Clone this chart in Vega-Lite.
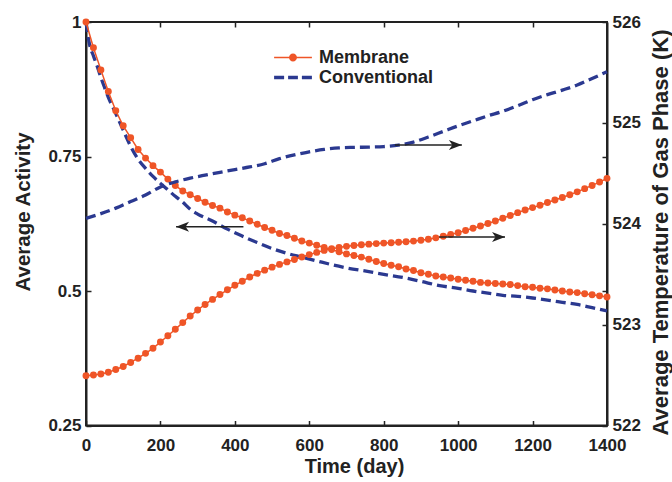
{
  "$schema": "https://vega.github.io/schema/vega-lite/v6.json",
  "width": 521,
  "height": 403.5,
  "autosize": "none",
  "padding": {"left": 86, "top": 22, "right": 65, "bottom": 56.5},
  "background": "white",
  "config": {
    "view": {"stroke": "#222", "strokeWidth": 2},
    "axis": {
      "labelFont": "Liberation Sans", "labelFontWeight": "bold", "labelFontSize": 17, "labelColor": "#222", "labelFlush": false,
      "titleFont": "Liberation Sans", "titleFontWeight": "bold", "titleColor": "#222",
      "domainColor": "#222", "domainWidth": 2, "tickColor": "#222", "tickWidth": 1.5, "tickSize": -5, "grid": false
    }
  },
  "datasets": {
    "memAct": [
      {"day": 0, "value": 1.0, "s": "Membrane"}, {"day": 20, "value": 0.952, "s": "Membrane"}, {"day": 40, "value": 0.911, "s": "Membrane"},
      {"day": 60, "value": 0.871, "s": "Membrane"}, {"day": 80, "value": 0.835, "s": "Membrane"}, {"day": 100, "value": 0.807, "s": "Membrane"},
      {"day": 120, "value": 0.785, "s": "Membrane"}, {"day": 140, "value": 0.763, "s": "Membrane"}, {"day": 160, "value": 0.747, "s": "Membrane"},
      {"day": 180, "value": 0.733, "s": "Membrane"}, {"day": 200, "value": 0.721, "s": "Membrane"}, {"day": 220, "value": 0.708, "s": "Membrane"},
      {"day": 240, "value": 0.696, "s": "Membrane"}, {"day": 260, "value": 0.686, "s": "Membrane"}, {"day": 280, "value": 0.679, "s": "Membrane"},
      {"day": 300, "value": 0.672, "s": "Membrane"}, {"day": 320, "value": 0.665, "s": "Membrane"}, {"day": 340, "value": 0.659, "s": "Membrane"},
      {"day": 360, "value": 0.654, "s": "Membrane"}, {"day": 380, "value": 0.647, "s": "Membrane"}, {"day": 400, "value": 0.641, "s": "Membrane"},
      {"day": 420, "value": 0.636, "s": "Membrane"}, {"day": 440, "value": 0.630, "s": "Membrane"}, {"day": 460, "value": 0.624, "s": "Membrane"},
      {"day": 480, "value": 0.618, "s": "Membrane"}, {"day": 500, "value": 0.613, "s": "Membrane"}, {"day": 520, "value": 0.607, "s": "Membrane"},
      {"day": 540, "value": 0.603, "s": "Membrane"}, {"day": 560, "value": 0.598, "s": "Membrane"}, {"day": 580, "value": 0.593, "s": "Membrane"},
      {"day": 600, "value": 0.589, "s": "Membrane"}, {"day": 620, "value": 0.585, "s": "Membrane"}, {"day": 640, "value": 0.581, "s": "Membrane"},
      {"day": 660, "value": 0.577, "s": "Membrane"}, {"day": 680, "value": 0.573, "s": "Membrane"}, {"day": 700, "value": 0.569, "s": "Membrane"},
      {"day": 720, "value": 0.566, "s": "Membrane"}, {"day": 740, "value": 0.563, "s": "Membrane"}, {"day": 760, "value": 0.559, "s": "Membrane"},
      {"day": 780, "value": 0.555, "s": "Membrane"}, {"day": 800, "value": 0.551, "s": "Membrane"}, {"day": 820, "value": 0.548, "s": "Membrane"},
      {"day": 840, "value": 0.545, "s": "Membrane"}, {"day": 860, "value": 0.541, "s": "Membrane"}, {"day": 880, "value": 0.538, "s": "Membrane"},
      {"day": 900, "value": 0.534, "s": "Membrane"}, {"day": 920, "value": 0.531, "s": "Membrane"}, {"day": 940, "value": 0.528, "s": "Membrane"},
      {"day": 960, "value": 0.526, "s": "Membrane"}, {"day": 980, "value": 0.524, "s": "Membrane"}, {"day": 1000, "value": 0.522, "s": "Membrane"},
      {"day": 1020, "value": 0.520, "s": "Membrane"}, {"day": 1040, "value": 0.518, "s": "Membrane"}, {"day": 1060, "value": 0.516, "s": "Membrane"},
      {"day": 1080, "value": 0.515, "s": "Membrane"}, {"day": 1100, "value": 0.514, "s": "Membrane"}, {"day": 1120, "value": 0.513, "s": "Membrane"},
      {"day": 1140, "value": 0.512, "s": "Membrane"}, {"day": 1160, "value": 0.510, "s": "Membrane"}, {"day": 1180, "value": 0.508, "s": "Membrane"},
      {"day": 1200, "value": 0.507, "s": "Membrane"}, {"day": 1220, "value": 0.505, "s": "Membrane"}, {"day": 1240, "value": 0.504, "s": "Membrane"},
      {"day": 1260, "value": 0.502, "s": "Membrane"}, {"day": 1280, "value": 0.500, "s": "Membrane"}, {"day": 1300, "value": 0.498, "s": "Membrane"},
      {"day": 1320, "value": 0.497, "s": "Membrane"}, {"day": 1340, "value": 0.495, "s": "Membrane"}, {"day": 1360, "value": 0.493, "s": "Membrane"},
      {"day": 1380, "value": 0.491, "s": "Membrane"}, {"day": 1400, "value": 0.489, "s": "Membrane"}
    ],
    "convAct": [
      {"day": 0, "value": 1.0}, {"day": 10, "value": 0.957}, {"day": 20, "value": 0.937}, {"day": 30, "value": 0.918},
      {"day": 40, "value": 0.897}, {"day": 50, "value": 0.878}, {"day": 60, "value": 0.860}, {"day": 80, "value": 0.830},
      {"day": 100, "value": 0.799}, {"day": 120, "value": 0.769}, {"day": 140, "value": 0.745}, {"day": 160, "value": 0.728},
      {"day": 180, "value": 0.713}, {"day": 200, "value": 0.700}, {"day": 220, "value": 0.688}, {"day": 240, "value": 0.676},
      {"day": 260, "value": 0.665}, {"day": 280, "value": 0.652}, {"day": 300, "value": 0.643}, {"day": 340, "value": 0.630},
      {"day": 380, "value": 0.615}, {"day": 420, "value": 0.602}, {"day": 460, "value": 0.590}, {"day": 500, "value": 0.579},
      {"day": 540, "value": 0.570}, {"day": 580, "value": 0.563}, {"day": 620, "value": 0.556}, {"day": 660, "value": 0.549},
      {"day": 700, "value": 0.543}, {"day": 760, "value": 0.536}, {"day": 800, "value": 0.531}, {"day": 860, "value": 0.524},
      {"day": 900, "value": 0.518}, {"day": 950, "value": 0.510}, {"day": 1000, "value": 0.505}, {"day": 1040, "value": 0.500},
      {"day": 1080, "value": 0.496}, {"day": 1120, "value": 0.492}, {"day": 1160, "value": 0.490}, {"day": 1200, "value": 0.487},
      {"day": 1240, "value": 0.483}, {"day": 1280, "value": 0.479}, {"day": 1320, "value": 0.475}, {"day": 1360, "value": 0.469},
      {"day": 1400, "value": 0.463}
    ],
    "memTemp": [
      {"day": 0, "value": 522.494}, {"day": 20, "value": 522.500}, {"day": 40, "value": 522.510}, {"day": 60, "value": 522.527},
      {"day": 80, "value": 522.555}, {"day": 100, "value": 522.585}, {"day": 120, "value": 522.625}, {"day": 140, "value": 522.667},
      {"day": 160, "value": 522.715}, {"day": 180, "value": 522.765}, {"day": 200, "value": 522.828}, {"day": 220, "value": 522.890},
      {"day": 240, "value": 522.954}, {"day": 260, "value": 523.020}, {"day": 280, "value": 523.085}, {"day": 300, "value": 523.145},
      {"day": 320, "value": 523.200}, {"day": 340, "value": 523.250}, {"day": 360, "value": 523.298}, {"day": 380, "value": 523.345},
      {"day": 400, "value": 523.390}, {"day": 420, "value": 523.430}, {"day": 440, "value": 523.472}, {"day": 460, "value": 523.508},
      {"day": 480, "value": 523.540}, {"day": 500, "value": 523.570}, {"day": 520, "value": 523.597}, {"day": 540, "value": 523.622},
      {"day": 560, "value": 523.646}, {"day": 580, "value": 523.670}, {"day": 600, "value": 523.694}, {"day": 620, "value": 523.716},
      {"day": 640, "value": 523.736}, {"day": 660, "value": 523.752}, {"day": 680, "value": 523.765}, {"day": 700, "value": 523.776},
      {"day": 720, "value": 523.785}, {"day": 740, "value": 523.792}, {"day": 760, "value": 523.798}, {"day": 780, "value": 523.803},
      {"day": 800, "value": 523.808}, {"day": 820, "value": 523.812}, {"day": 840, "value": 523.816}, {"day": 860, "value": 523.821},
      {"day": 880, "value": 523.828}, {"day": 900, "value": 523.836}, {"day": 920, "value": 523.847}, {"day": 940, "value": 523.860},
      {"day": 960, "value": 523.876}, {"day": 980, "value": 523.893}, {"day": 1000, "value": 523.912}, {"day": 1020, "value": 523.933},
      {"day": 1040, "value": 523.955}, {"day": 1060, "value": 523.978}, {"day": 1080, "value": 524.003}, {"day": 1100, "value": 524.028},
      {"day": 1120, "value": 524.054}, {"day": 1140, "value": 524.082}, {"day": 1160, "value": 524.110}, {"day": 1180, "value": 524.136},
      {"day": 1200, "value": 524.160}, {"day": 1220, "value": 524.184}, {"day": 1240, "value": 524.210}, {"day": 1260, "value": 524.236},
      {"day": 1280, "value": 524.261}, {"day": 1300, "value": 524.287}, {"day": 1320, "value": 524.316}, {"day": 1340, "value": 524.348},
      {"day": 1360, "value": 524.380}, {"day": 1380, "value": 524.413}, {"day": 1400, "value": 524.450}
    ],
    "convTemp": [
      {"day": 0, "value": 524.054}, {"day": 40, "value": 524.100}, {"day": 80, "value": 524.155}, {"day": 120, "value": 524.220},
      {"day": 160, "value": 524.285}, {"day": 200, "value": 524.365}, {"day": 240, "value": 524.415}, {"day": 280, "value": 524.452},
      {"day": 320, "value": 524.482}, {"day": 360, "value": 524.510}, {"day": 400, "value": 524.537}, {"day": 440, "value": 524.563},
      {"day": 480, "value": 524.595}, {"day": 520, "value": 524.645}, {"day": 560, "value": 524.683}, {"day": 600, "value": 524.713},
      {"day": 640, "value": 524.737}, {"day": 680, "value": 524.752}, {"day": 720, "value": 524.757}, {"day": 760, "value": 524.760},
      {"day": 800, "value": 524.765}, {"day": 840, "value": 524.780}, {"day": 880, "value": 524.810}, {"day": 920, "value": 524.860},
      {"day": 960, "value": 524.915}, {"day": 1000, "value": 524.970}, {"day": 1040, "value": 525.020}, {"day": 1080, "value": 525.070},
      {"day": 1120, "value": 525.115}, {"day": 1160, "value": 525.170}, {"day": 1200, "value": 525.230}, {"day": 1240, "value": 525.280},
      {"day": 1280, "value": 525.325}, {"day": 1320, "value": 525.375}, {"day": 1360, "value": 525.440}, {"day": 1400, "value": 525.507}
    ],
    "arrowAct": [{"day": 242, "day2": 423, "value": 0.6195}],
    "arrowTemp": [{"day": 1010, "day2": 830, "value": 524.78}, {"day": 1126, "day2": 949, "value": 523.869}]
  },
  "layer": [
    {
      "encoding": {
        "x": {"field": "day", "type": "quantitative", "scale": {"domain": [0, 1400], "nice": false},
          "axis": {"orient": "bottom", "values": [0, 200, 400, 600, 800, 1000, 1200, 1400], "format": "d", "labelPadding": 17,
            "title": "Time (day)", "titleFontSize": 20, "titleX": 268, "titleY": 47, "titleBaseline": "alphabetic"}},
        "y": {"field": "value", "type": "quantitative", "scale": {"domain": [0.25, 1], "nice": false, "zero": false},
          "axis": {"orient": "left", "values": [0.25, 0.5, 0.75, 1], "format": ".2~f", "labelPadding": 10,
            "title": "Average Activity", "titleFontSize": 20.5, "titleAngle": 270, "titleBaseline": "bottom", "titleX": -53, "titleY": 189.5}}
      },
      "layer": [
        {"data": {"name": "convAct"}, "mark": {"type": "line", "color": "#2b3990", "strokeWidth": 3.3, "strokeDash": [10, 5], "interpolate": "monotone"}},
        {"data": {"name": "memAct"}, "mark": {"type": "line", "color": "#ef5527", "strokeWidth": 1.5}},
        {"data": {"name": "memAct"}, "mark": {"type": "point", "filled": true, "size": 48, "opacity": 1, "color": "#ef5527"}},
        {"data": {"name": "arrowAct"}, "mark": {"type": "point", "filled": true, "opacity": 0},
          "encoding": {
            "color": {"field": "s", "type": "nominal",
              "scale": {"domain": ["Membrane", "Conventional"], "range": ["#ef5527", "#2b3990"]},
              "legend": {"orient": "none", "legendX": 198, "legendY": 26.5, "title": null, "padding": 0, "symbolSize": 196,
                "labelOffset": 17, "labelFont": "Liberation Sans", "labelFontWeight": "bold", "labelFontSize": 18, "labelColor": "#222",
                "rowPadding": 2, "symbolStrokeWidth": 0, "symbolOpacity": 1}},
            "shape": {"field": "s", "type": "nominal",
              "scale": {"domain": ["Membrane", "Conventional"], "range": [
                "M -2.7 -0.1 L 2.7 -0.1 L 2.7 0.1 L -2.7 0.1 Z M 0.57 0 A 0.57 0.57 0 1 1 -0.57 0 A 0.57 0.57 0 1 1 0.57 0 Z",
                "M -2.7 -0.24 L -1.27 -0.24 L -1.27 0.24 L -2.7 0.24 Z M -0.7 -0.24 L 0.7 -0.24 L 0.7 0.24 L -0.7 0.24 Z M 1.27 -0.24 L 2.7 -0.24 L 2.7 0.24 L 1.27 0.24 Z"]},
              "legend": {"orient": "none", "legendX": 198, "legendY": 26.5, "title": null, "padding": 0, "symbolSize": 196,
                "labelOffset": 17, "labelFont": "Liberation Sans", "labelFontWeight": "bold", "labelFontSize": 18, "labelColor": "#222",
                "rowPadding": 2, "symbolStrokeWidth": 0, "symbolOpacity": 1}}
          }},
        {"data": {"name": "arrowAct"}, "mark": {"type": "rule", "color": "#222", "strokeWidth": 1.5},
          "encoding": {"x2": {"field": "day2"}}},
        {"data": {"name": "arrowAct"}, "mark": {"type": "point", "filled": true, "color": "#222", "opacity": 1, "size": 100,
          "shape": "M 0 0 L 2.6 -1 L 1.9 0 L 2.6 1 Z"}}
      ]
    },
    {
      "encoding": {
        "x": {"field": "day", "type": "quantitative", "scale": {"domain": [0, 1400], "nice": false}, "axis": null},
        "y": {"field": "value", "type": "quantitative", "scale": {"domain": [522, 526], "nice": false, "zero": false},
          "axis": {"orient": "right", "values": [522, 523, 524, 525, 526], "format": "d", "labelPadding": 10,
            "title": "Average Temperature of Gas Phase (K)", "titleFontSize": 22, "titleAngle": 270, "titleBaseline": "alphabetic",
            "titleX": 60, "titleY": 210}}
      },
      "layer": [
        {"data": {"name": "convTemp"}, "mark": {"type": "line", "color": "#2b3990", "strokeWidth": 3.3, "strokeDash": [10, 5], "interpolate": "monotone"}},
        {"data": {"name": "memTemp"}, "mark": {"type": "line", "color": "#ef5527", "strokeWidth": 1.5}},
        {"data": {"name": "memTemp"}, "mark": {"type": "point", "filled": true, "size": 48, "opacity": 1, "color": "#ef5527"}},
        {"data": {"name": "arrowTemp"}, "mark": {"type": "rule", "color": "#222", "strokeWidth": 1.5},
          "encoding": {"x2": {"field": "day2"}}},
        {"data": {"name": "arrowTemp"}, "mark": {"type": "point", "filled": true, "color": "#222", "opacity": 1, "size": 100,
          "shape": "M 0 0 L -2.6 -1 L -1.9 0 L -2.6 1 Z"}}
      ]
    },
    {
      "data": {"name": "arrowAct"},
      "mark": {"type": "point", "opacity": 0},
      "encoding": {
        "x": {"field": "day", "type": "quantitative", "scale": {"domain": [0, 1400], "nice": false},
          "axis": {"orient": "top", "values": [200, 400, 600, 800, 1000, 1200], "labels": false, "title": null, "domain": false}},
        "y": {"field": "value", "type": "quantitative", "scale": {"domain": [0.25, 1], "nice": false, "zero": false},
          "axis": {"orient": "right", "values": [0.5, 0.75], "labels": false, "title": null, "domain": false}}
      }
    }
  ],
  "resolve": {"scale": {"x": "independent", "y": "independent"}}
}
